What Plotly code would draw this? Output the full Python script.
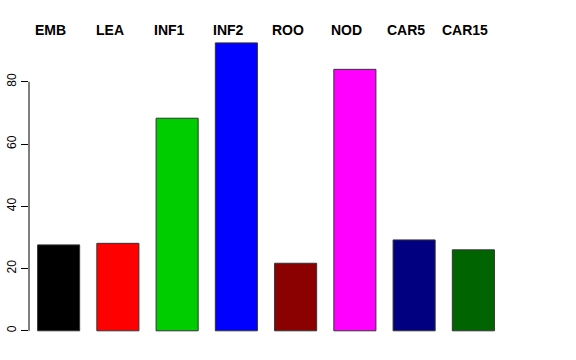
import plotly.graph_objects as go

categories = ["EMB", "LEA", "INF1", "INF2", "ROO", "NOD", "CAR5", "CAR15"]
values = [27.6, 28.1, 68.3, 92.5, 21.7, 84.0, 29.2, 26.0]
colors = ["#000000", "#FF0000", "#00CD00", "#0000FF", "#8B0000", "#FF00FF", "#000080", "#006400"]
y_ticks = [0, 20, 40, 60, 80]

xpos = list(range(len(categories)))

fig = go.Figure()
fig.add_trace(go.Bar(
    x=xpos, y=values, width=0.71,
    marker=dict(color=colors, line=dict(color="#333333", width=1)),
    hoverinfo="skip", showlegend=False,
))

for i, lab in enumerate(categories):
    fig.add_annotation(
        x=xpos[i], y=1.0065, xref="x", yref="paper", text="<b>%s</b>" % lab,
        showarrow=False, xanchor="center", yanchor="middle", xshift=-8,
        font=dict(family="Liberation Sans, Arial, sans-serif", size=14, color="black"),
    )

# R-style y axis line spanning first to last tick
fig.add_shape(type="line", xref="paper", yref="y", x0=0, x1=0,
              y0=y_ticks[0], y1=y_ticks[-1], line=dict(color="black", width=1))

fig.update_layout(
    width=576, height=360,
    margin=dict(l=29, r=73, t=32, b=18, autoexpand=False),
    paper_bgcolor="white", plot_bgcolor="white",
    font=dict(family="Liberation Sans, Arial, sans-serif", size=12, color="black"),
    xaxis=dict(range=[-0.5, 7.5], showgrid=False, zeroline=False, showline=False,
               showticklabels=False, ticks="", automargin=False, fixedrange=True),
    yaxis=dict(range=[-3.6, 96.0], showgrid=False, zeroline=False, showline=False,
               tickvals=y_ticks, ticktext=[str(v) for v in y_ticks],
               ticks="outside", ticklen=7, tickcolor="black", tickwidth=1,
               tickangle=-90, tickfont=dict(size=12), automargin=False, fixedrange=True),
)

fig.write_html(
    "out.html",
    config={"displayModeBar": False, "staticPlot": True},
    post_script="document.body.style.margin='0';document.body.style.overflow='hidden';",
)
